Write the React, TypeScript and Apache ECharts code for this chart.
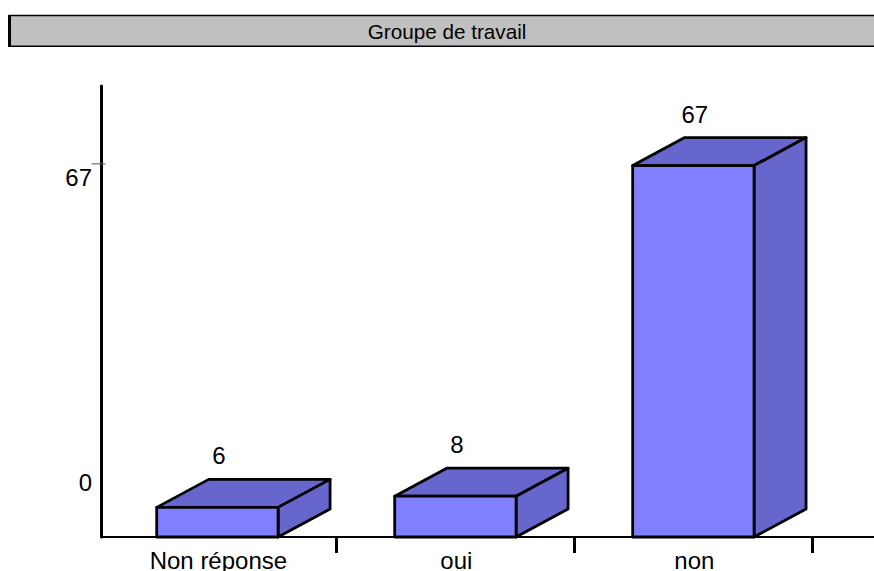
import React, { useEffect, useRef } from "react";
import * as echarts from "echarts";

const categories = ["Non réponse", "oui", "non"];
const counts = [6, 8, 67];
const axisLabelValues = [0, 67];
const axisTickValues = [67];
const chartTitle = "Groupe de travail";

const FONT = "'Liberation Sans', Arial, sans-serif";
const FRONT = "#8080FF";
const SHADE = "#6666CC";
const DEPTH_X = 52;
const DEPTH_Y = 28;

// Extruded bar: front face, top face and right-hand face, with its value above.
function renderBox(params: any, api: any) {
  const index = api.value(0);
  const value = api.value(1);
  const [cx, top] = api.coord([index, value]);
  const half = api.size([0.51, 0])[0] / 2;
  const bottom = params.coordSys.y + params.coordSys.height;
  const l = cx - half;
  const r = cx + half;
  const edge = { fill: SHADE, stroke: "#000", lineWidth: 2.8, lineJoin: "round" };
  return {
    type: "group",
    children: [
      {
        type: "polygon",
        shape: { points: [[l, top], [l + DEPTH_X, top - DEPTH_Y], [r + DEPTH_X, top - DEPTH_Y], [r, top]] },
        style: edge,
      },
      {
        type: "polygon",
        shape: { points: [[r, top], [r + DEPTH_X, top - DEPTH_Y], [r + DEPTH_X, bottom - DEPTH_Y], [r, bottom]] },
        style: edge,
      },
      {
        type: "rect",
        shape: { x: l, y: top, width: r - l, height: bottom - top },
        style: { ...edge, fill: FRONT },
      },
      {
        type: "text",
        x: cx + 1.5,
        y: top - DEPTH_Y - 23.5,
        style: {
          text: String(value),
          fill: "#000",
          font: `24px ${FONT}`,
          align: "center",
          verticalAlign: "middle",
        },
      },
    ],
  };
}

// Short hairline crossing the vertical axis at a labelled value.
function renderScaleTick(params: any, api: any) {
  const y = api.coord([0, api.value(0)])[1];
  const axisX = params.coordSys.x;
  return {
    type: "line",
    shape: { x1: axisX - 10, y1: y, x2: axisX + 4, y2: y },
    style: { stroke: "#555", lineWidth: 1 },
    silent: true,
  };
}

export default function App() {
  const ref = useRef<HTMLDivElement>(null);

  useEffect(() => {
    document.body.style.margin = "0";
    const chart = echarts.init(ref.current!, undefined, { renderer: "svg" });
    chart.setOption({
      animation: false,
      backgroundColor: "#fff",
      title: {
        text: chartTitle,
        left: 447,
        top: 31,
        textAlign: "center",
        textVerticalAlign: "middle",
        padding: 0,
        textStyle: { fontFamily: FONT, fontSize: 20.7, fontWeight: "normal", color: "#000" },
      },
      graphic: [
        {
          type: "rect",
          z: 0,
          shape: { x: 9.5, y: 15.5, width: 880, height: 30.75 },
          style: { fill: "#C0C0C0", stroke: "#000", lineWidth: 1.5 },
        },
        {
          type: "line",
          z: 1,
          shape: { x1: 9.5, y1: 15, x2: 9.5, y2: 47 },
          style: { stroke: "#000", lineWidth: 3 },
        },
      ],
      grid: { left: 101.5, right: 0, top: 86, bottom: 34, outerBoundsMode: "none" },
      xAxis: {
        type: "value",
        min: -0.487,
        max: 2.759,
        splitLine: { show: false },
        axisLine: { show: true, onZero: false, lineStyle: { color: "#000", width: 2 } },
        axisTick: {
          show: true,
          customValues: [0.5, 1.5, 2.5],
          length: 16,
          lineStyle: { color: "#000", width: 3 },
        },
        axisLabel: {
          customValues: categories.map((_, i) => i),
          formatter: (v: number) => categories[v] ?? "",
          color: "#000",
          fontFamily: FONT,
          fontSize: 24,
          margin: 11.5,
          padding: [0, 0, 0, 2],
          showMinLabel: true,
          showMaxLabel: true,
        },
      },
      yAxis: [
        {
          // Printed scale: its two labels sit below their nominal positions.
          type: "value",
          min: -14.94,
          max: 84.1,
          splitLine: { show: false },
          axisLine: { show: false },
          axisTick: { show: false },
          axisLabel: {
            customValues: axisLabelValues,
            color: "#000",
            fontFamily: FONT,
            fontSize: 24,
            margin: 9.5,
            verticalAlign: "top",
            padding: [2, 0, 0, 0],
          },
        },
        {
          // Scale of the boxes; only its line is drawn.
          type: "value",
          min: 0.714,
          max: 81.2,
          position: "left",
          splitLine: { show: false },
          axisLine: { show: true, onZero: false, lineStyle: { color: "#000", width: 3 } },
          axisTick: { show: false },
          axisLabel: { show: false },
        },
      ],
      series: [
        {
          type: "custom",
          yAxisIndex: 0,
          clip: false,
          renderItem: renderScaleTick,
          encode: { y: 0 },
          data: axisTickValues.map((v) => [v]),
        },
        {
          type: "custom",
          yAxisIndex: 1,
          clip: false,
          renderItem: renderBox,
          data: counts.map((v, i) => [i, v]),
        },
      ],
    });
    return () => chart.dispose();
  }, []);

  return (
    <div
      ref={ref}
      style={{ position: "fixed", left: 0, top: 0, width: 874, height: 571, overflow: "hidden" }}
    />
  );
}
